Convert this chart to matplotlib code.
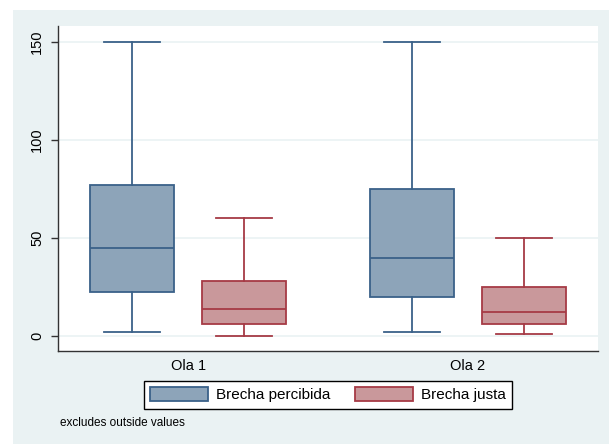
import matplotlib.pyplot as plt
from matplotlib.patches import Patch, Rectangle

plt.rcParams['font.family'] = ['Liberation Sans', 'DejaVu Sans']

# box stats
groups = ['Ola 1', 'Ola 2']
series = ['Brecha percibida', 'Brecha justa']
whislo = [[2, 2], [0, 1]]      # [series][group]
q1 = [[22.5, 20], [6, 6]]
med = [[45, 40], [14, 12]]
q3 = [[77, 75], [28, 25]]
whishi = [[150, 150], [60, 50]]

fills = ['#8da4b9', '#c9989b']
edges = ['#3a6189', '#a63a45']
bg = '#eaf2f3'

fig = plt.figure(figsize=(6.09, 4.44), dpi=100)
fig.patch.set_facecolor('white')
fig.add_artist(Rectangle((13 / 609, 0), 1, 1 - 10 / 444, transform=fig.transFigure,
                         facecolor=bg, edgecolor='none', zorder=-10))

ax = fig.add_axes([58 / 609, 1 - 351 / 444, 540 / 609, 325 / 444])
ax.set_facecolor('white')

offs = [-0.2, 0.2]
for s in range(2):
    stats = []
    for g in range(2):
        stats.append(dict(whislo=whislo[s][g], q1=q1[s][g], med=med[s][g],
                          q3=q3[s][g], whishi=whishi[s][g], fliers=[]))
    pos = [g + 1 + offs[s] for g in range(2)]
    ax.bxp(stats, positions=pos, widths=0.3, capwidths=0.2, patch_artist=True,
           showfliers=False,
           boxprops=dict(facecolor=fills[s], edgecolor=edges[s], linewidth=1.3),
           medianprops=dict(color=edges[s], linewidth=1.3),
           whiskerprops=dict(color=edges[s], linewidth=1.3),
           capprops=dict(color=edges[s], linewidth=1.3))

ax.set_xlim(1 - 0.465, 2 + 0.465)
ax.set_ylim(-7.65, 158.2)
ax.set_yticks([0, 50, 100, 150])
ax.set_yticklabels(['0', '50', '100', '150'], rotation=90, va='center', fontsize=10.5)
ax.set_xticks([1, 2])
ax.set_xticklabels(groups, fontsize=10.5)
ax.tick_params(axis='x', length=0, pad=6)
ax.tick_params(axis='y', length=5, width=1, color='#333333', pad=5)
ax.yaxis.grid(True, color=bg, linewidth=1.2)
ax.set_axisbelow(True)
for sp in ['top', 'right']:
    ax.spines[sp].set_visible(False)
for sp in ['left', 'bottom']:
    ax.spines[sp].set_color('#333333')
    ax.spines[sp].set_linewidth(1)

handles = [Patch(facecolor=fills[i], edgecolor=edges[i], linewidth=1.3) for i in range(2)]
leg = fig.legend(handles, series, loc='upper center', bbox_to_anchor=(328 / 609, 1 - 381 / 444),
                 ncol=2, fontsize=11, frameon=True, fancybox=False, framealpha=1,
                 edgecolor='black', handlelength=3.8, handleheight=1.05,
                 handletextpad=0.52, columnspacing=1.57, borderpad=0.4,
                 borderaxespad=0)
leg.get_frame().set_linewidth(1)

fig.text(60 / 609, 1 - 423 / 444, 'excludes outside values', fontsize=8.5, va='center')

fig.savefig('out.png', dpi=100)
